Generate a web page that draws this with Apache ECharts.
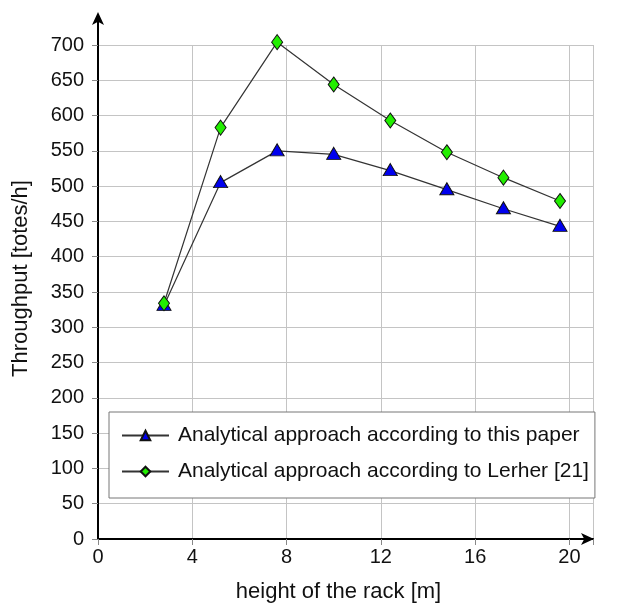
<!DOCTYPE html>
<html>
<head>
<meta charset="utf-8">
<script src="https://cdn.jsdelivr.net/npm/echarts@6/dist/echarts.min.js"></script>
<style>html,body{margin:0;padding:0;background:#fff}#c{width:625px;height:604px}</style>
</head>
<body>
<div id="c"></div>
<script>
const heights = [2.8, 5.2, 7.6, 10.0, 12.4, 14.8, 17.2, 19.6];
const thisPaper = [331, 505, 550, 545, 522, 495, 468, 443];
const lerher = [334, 583, 704, 644, 593, 548, 512, 479];
const xTicks = [0, 4, 8, 12, 16, 20];
const yTicks = [0, 50, 100, 150, 200, 250, 300, 350, 400, 450, 500, 550, 600, 650, 700];
const seriesNames = ['Analytical approach according to this paper', 'Analytical approach according to Lerher [21]'];

const FONT = 'Liberation Sans';
const chart = echarts.init(document.getElementById('c'), null, {renderer: 'canvas'});
const gridL = 98, gridR = 32, gridB = 65;
chart.setOption({
  animation: false,
  textStyle: {fontFamily: FONT},
  grid: [
    {left: gridL, right: gridR, top: 45, bottom: gridB, containLabel: false, outerBoundsMode: 'none'},
    {left: gridL, right: gridR, top: 18, bottom: gridB, containLabel: false, outerBoundsMode: 'none'}
  ],
  xAxis: [
    {
      gridIndex: 0, type: 'value', min: 0, max: 21, interval: 4,
      axisLine: {show: false},
      axisTick: {show: true, length: 6, lineStyle: {color: '#888'}},
      axisLabel: {color: '#111', fontSize: 20, margin: 8, fontFamily: FONT,
        formatter: v => xTicks.includes(v) ? String(v) : ''},
      splitLine: {show: true, lineStyle: {color: '#c4c4c4', width: 1}},
      name: 'height of the rack [m]', nameLocation: 'middle', nameGap: 42,
      nameTextStyle: {color: '#111', fontSize: 22, fontFamily: FONT, padding: [0, 14, 0, 0]}
    },
    {
      gridIndex: 1, type: 'value', min: 0, max: 21,
      axisLine: {show: true, symbol: ['none', 'arrow'], symbolSize: [9, 13], symbolOffset: [0, 1], lineStyle: {color: '#000', width: 2}},
      axisTick: {show: false}, axisLabel: {show: false}, splitLine: {show: false}
    }
  ],
  yAxis: [
    {
      gridIndex: 0, type: 'value', min: 0, max: 700, interval: 50,
      axisLine: {show: false},
      axisTick: {show: true, length: 6, lineStyle: {color: '#888'}},
      axisLabel: {color: '#111', fontSize: 20, margin: 14, fontFamily: FONT,
        formatter: v => yTicks.includes(v) ? String(v) : ''},
      splitLine: {show: true, lineStyle: {color: '#c4c4c4', width: 1}}
    },
    {
      gridIndex: 1, type: 'value', min: 0, max: 740,
      axisLine: {show: true, symbol: ['none', 'arrow'], symbolSize: [9, 13], symbolOffset: [0, 6], lineStyle: {color: '#000', width: 2}},
      axisTick: {show: false}, axisLabel: {show: false}, splitLine: {show: false},
      name: 'Throughput [totes/h]', nameLocation: 'middle', nameGap: 66,
      nameTextStyle: {color: '#111', fontSize: 22, fontFamily: FONT, padding: [0, 0, 0, 0]}
    }
  ],
  legend: {
    orient: 'vertical', left: 109, top: 412,
    padding: [13, 6, 16, 12], itemGap: 15, itemWidth: 47, itemHeight: 12,
    backgroundColor: '#fff', borderColor: '#777', borderWidth: 1,
    textStyle: {color: '#111', fontSize: 21, fontFamily: FONT, padding: [0, 0, 0, 4]},
    data: seriesNames
  },
  series: [
    {
      name: seriesNames[0], type: 'line', xAxisIndex: 0, yAxisIndex: 0,
      data: heights.map((h, i) => [h, thisPaper[i]]),
      symbol: 'triangle', symbolSize: [14, 12], symbolOffset: [0, -1],
      lineStyle: {color: '#333', width: 1.2},
      itemStyle: {color: '#0000ee', borderColor: '#111', borderWidth: 1},
      clip: false, z: 3
    },
    {
      name: seriesNames[1], type: 'line', xAxisIndex: 0, yAxisIndex: 0,
      data: heights.map((h, i) => [h, lerher[i]]),
      symbol: 'diamond', symbolSize: [11, 15],
      lineStyle: {color: '#333', width: 1.2},
      itemStyle: {color: '#22ee00', borderColor: '#111', borderWidth: 1},
      clip: false, z: 4
    }
  ]
});
</script>
</body>
</html>
